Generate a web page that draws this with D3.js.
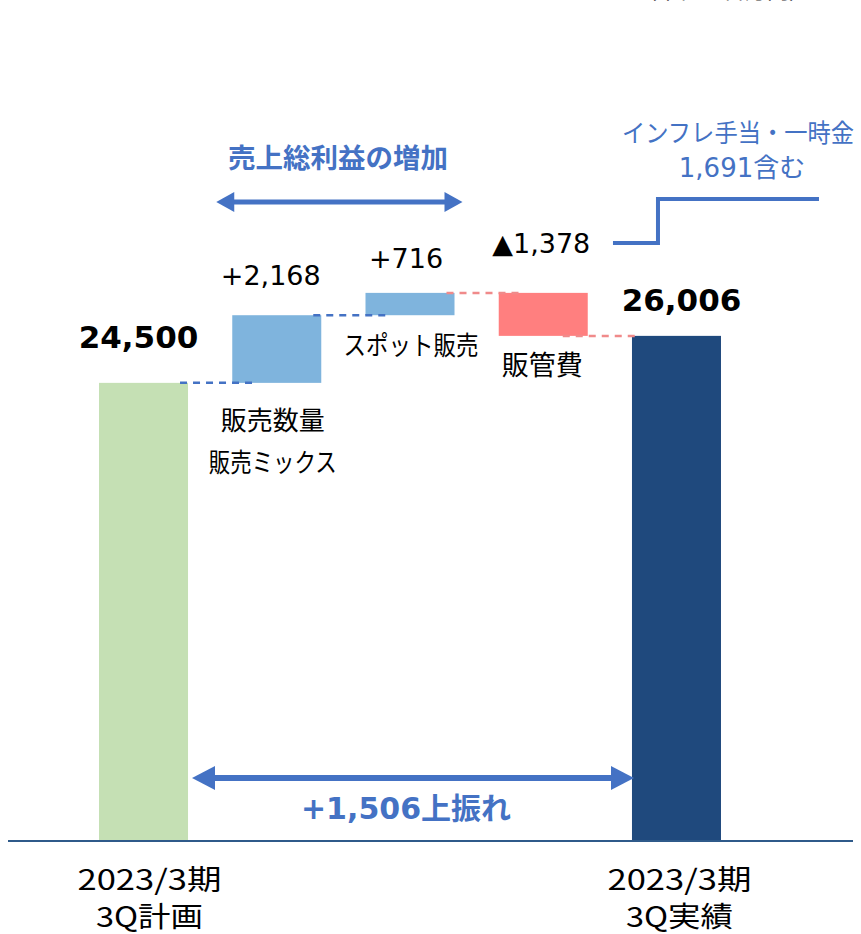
<!DOCTYPE html>
<html><head><meta charset="utf-8">
<script src="https://cdn.jsdelivr.net/npm/d3@7"></script>
<style>
html,body{margin:0;padding:0;background:#fff;}
svg{display:block;}
</style></head>
<body>
<script>
// ---- data ----
const categories = ["計画", "販売数量・販売ミックス", "スポット販売", "販管費", "実績"];
const startValue = 24500;
const deltas = [2168, 716, -1378];
const endValue = 26006;
const valueLabels = ["24,500", "+2,168", "+716", "▲1,378", "26,006"];
const catLabelLines = [["2023/3期", "3Q計画"], ["販売数量", "販売ミックス"], ["スポット販売"], ["販管費"], ["2023/3期", "3Q実績"]];
const barColors = ["#C5E0B4", "#7FB4DD", "#7FB4DD", "#FF7F7F", "#1F497D"];
const connectorColors = ["#4472C4", "#4472C4", "#F08A8A", "#F08A8A"];
const totalGain = "+1,506上振れ";
const grossTitle = "売上総利益の増加";
const noteLines = ["インフレ手当・一時金", "1,691含む"];
const unitText = "（単位：百万円）";

const W = 861, H = 934;
const BLUE = "#4472C4";
const JP = "'DejaVu Sans','Noto Sans CJK JP',sans-serif";

// build waterfall rows
const rows = [];
let run = startValue;
rows.push({cat: categories[0], y0: 0, y1: startValue, total: true});
deltas.forEach((d, i) => {
  rows.push({cat: categories[i + 1], y0: run, y1: run + d});
  run += d;
});
rows.push({cat: categories[4], y0: 0, y1: endValue, total: true});

const svg = d3.select("body").append("svg").attr("width", W).attr("height", H)
  .style("font-family", JP);

const x = d3.scaleBand().domain(categories).range([76.9, 743.1])
  .paddingInner(0.332).paddingOuter(0.166);
const y = d3.scaleLinear().domain([9850, 36770]).range([840, 0]);
const bw = x.bandwidth();
const yBase = 840;

// unit text (clipped at top, as in the reference)
svg.append("text").attr("x", 723).attr("y", -2.5).attr("text-anchor", "middle")
  .attr("font-size", 22).attr("fill", "#333")
  .attr("font-family", "'Noto Sans CJK JP',sans-serif").text(unitText);

// bars
svg.selectAll("rect.bar").data(rows).join("rect").attr("class", "bar")
  .attr("x", d => x(d.cat)).attr("width", bw)
  .attr("y", d => d.total ? y(d.y1) : y(Math.max(d.y0, d.y1)))
  .attr("height", d => d.total ? yBase - y(d.y1) : Math.abs(y(d.y0) - y(d.y1)))
  .attr("fill", (d, i) => barColors[i]);

// connectors
for (let i = 0; i < rows.length - 1; i++) {
  const lvl = rows[i].y1;
  const x1 = x(rows[i].cat) + bw - (i === 3 ? 25 : 8);
  const x2 = x(rows[i + 1].cat) + (i === 3 ? 5 : 24);
  svg.append("line").attr("x1", x1).attr("x2", x2).attr("y1", y(lvl)).attr("y2", y(lvl))
    .attr("stroke", connectorColors[i]).attr("stroke-width", 2.5)
    .attr("stroke-dasharray", "7,6");
}

// baseline
svg.append("line").attr("x1", 8).attr("x2", 853).attr("y1", yBase + 1).attr("y2", yBase + 1)
  .attr("stroke", "#2F5A8A").attr("stroke-width", 2.2);

// value labels
const vlOff = [[-5, -35, 31, "bold"], [-6, -30, 27, "normal"], [-4, -25, 27, "normal"], [-2, -40, 27, "normal"], [5, -25, 31, "bold"]];
rows.forEach((d, i) => {
  const top = y(Math.max(d.y0, d.y1));
  svg.append("text").attr("x", x(d.cat) + bw / 2 + vlOff[i][0]).attr("y", top + vlOff[i][1])
    .attr("text-anchor", "middle").attr("font-size", vlOff[i][2]).attr("font-weight", vlOff[i][3])
    .attr("fill", "#000").text(valueLabels[i]);
});

// middle category labels
const catPos = {
  1: {dx: -4, ys: [430, 472], size: 26, len: [null, 128]},
  2: {dx: 1, ys: [355], size: 26, len: [135]},
  3: {dx: -1, ys: [375], size: 27, len: [null]},
};
[1, 2, 3].forEach(i => {
  const c = catPos[i];
  catLabelLines[i].forEach((t, k) => {
    const tx = svg.append("text").attr("x", x(categories[i]) + bw / 2 + c.dx).attr("y", c.ys[k])
      .attr("text-anchor", "middle").attr("font-size", c.size)
      .attr("font-family", "'Noto Sans CJK JP',sans-serif").attr("fill", "#000").text(t);
    if (c.len[k]) tx.attr("textLength", c.len[k]).attr("lengthAdjust", "spacingAndGlyphs");
  });
});
// axis labels for totals
[0, 4].forEach(i => {
  const cx = x(categories[i]) + bw / 2 + (i === 0 ? 6 : 3);
  catLabelLines[i].forEach((t, k) => {
    svg.append("text").attr("x", cx).attr("y", k === 0 ? 890 : 927)
      .attr("text-anchor", "middle").attr("font-size", 28)
      .attr("font-family", "'Noto Sans CJK JP',sans-serif").attr("fill", "#000")
      .attr("textLength", k === 0 ? 144 : 107).attr("lengthAdjust", "spacingAndGlyphs").text(t);
  });
});

// double arrow helper
function dblArrow(xa, xb, yy, sw, hl, hh) {
  svg.append("line").attr("x1", xa + hl - 2).attr("x2", xb - hl + 2).attr("y1", yy).attr("y2", yy)
    .attr("stroke", BLUE).attr("stroke-width", sw);
  svg.append("path").attr("d", `M${xa},${yy}L${xa + hl},${yy - hh / 2}L${xa + hl},${yy + hh / 2}Z`).attr("fill", BLUE);
  svg.append("path").attr("d", `M${xb},${yy}L${xb - hl},${yy - hh / 2}L${xb - hl},${yy + hh / 2}Z`).attr("fill", BLUE);
}

// top: gross profit increase
const gx1 = x(categories[1]) - 16, gx2 = x(categories[2]) + bw + 8;
dblArrow(gx1, gx2, 202, 5, 18, 20);
svg.append("text").attr("x", 338).attr("y", 168).attr("text-anchor", "middle")
  .attr("font-size", 27.5).attr("font-weight", "bold").attr("fill", BLUE)
  .attr("font-family", "'Noto Sans CJK JP',sans-serif").text(grossTitle);

// bottom: total gain
const bx1 = x(categories[0]) + bw + 4, bx2 = x(categories[4]) + 2;
dblArrow(bx1, bx2, 778, 6, 23, 24);
svg.append("text").attr("x", 406).attr("y", 819).attr("text-anchor", "middle")
  .attr("font-size", 30).attr("font-weight", "bold").attr("fill", BLUE).text(totalGain);

// note with step line
const sx = x(categories[4]) - 19;
svg.append("path").attr("d", `M${sx},243H${sx + 45}V199H${sx + 206}`)
  .attr("fill", "none").attr("stroke", BLUE).attr("stroke-width", 4);
svg.append("text").attr("x", 738).attr("y", 142).attr("text-anchor", "middle")
  .attr("font-size", 25).attr("fill", BLUE).attr("font-family", "'Noto Sans CJK JP',sans-serif")
  .attr("textLength", 232).attr("lengthAdjust", "spacingAndGlyphs").text(noteLines[0]);
svg.append("text").attr("x", 742).attr("y", 177).attr("text-anchor", "middle")
  .attr("font-size", 26).attr("fill", BLUE).text(noteLines[1]);
</script>
</body></html>
